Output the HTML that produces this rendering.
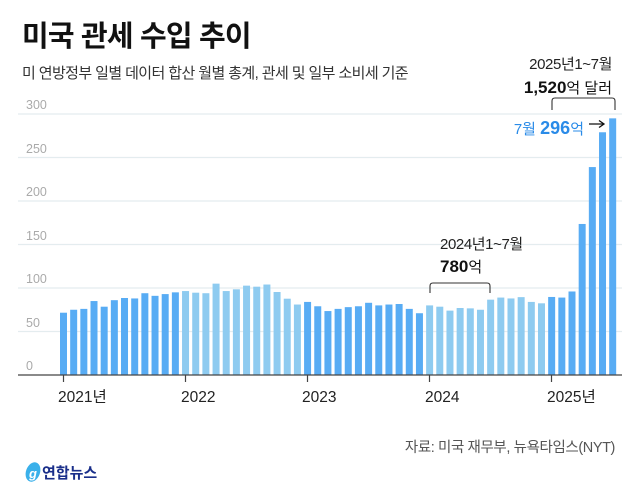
<!DOCTYPE html>
<html><head><meta charset="utf-8"><style>
body{margin:0;width:640px;height:495px;background:#fff;overflow:hidden}
svg text{font-family:"Liberation Sans","Noto Sans CJK KR",sans-serif}
</style></head><body>
<svg width="640" height="495" viewBox="0 0 640 495" xmlns="http://www.w3.org/2000/svg">
<text x="22" y="46" font-size="29" font-weight="bold" fill="#111" letter-spacing="-0.8">미국 관세 수입 추이</text>
<text x="22" y="78" font-size="15" fill="#333" letter-spacing="-0.6">미 연방정부 일별 데이터 합산 월별 총계, 관세 및 일부 소비세 기준</text>
<g stroke="#e4ecef" stroke-width="1.2">
<line x1="18" x2="622" y1="331.5" y2="331.5"/><line x1="18" x2="622" y1="288" y2="288"/>
<line x1="18" x2="622" y1="244.5" y2="244.5"/><line x1="18" x2="622" y1="201" y2="201"/>
<line x1="18" x2="622" y1="157.5" y2="157.5"/><line x1="18" x2="622" y1="114" y2="114"/>
</g>
<g font-size="12.5" fill="#aaa">
<text x="26" y="370">0</text><text x="26" y="327">50</text><text x="26" y="283">100</text>
<text x="26" y="240">150</text><text x="26" y="196">200</text><text x="26" y="153">250</text><text x="26" y="109">300</text>
</g>
<g id="bars"></g>
<line x1="18" x2="622" y1="375" y2="375" stroke="#444" stroke-width="1.3"/>
<g stroke="#444" stroke-width="1.2">
<line x1="63.5" x2="63.5" y1="375" y2="382"/><line x1="185.5" x2="185.5" y1="375" y2="382"/>
<line x1="307.5" x2="307.5" y1="375" y2="382"/><line x1="429.5" x2="429.5" y1="375" y2="382"/>
<line x1="551.5" x2="551.5" y1="375" y2="382"/>
</g>
<g font-size="15.5" fill="#222">
<text x="58" y="402">2021년</text><text x="181" y="402">2022</text><text x="302" y="402">2023</text>
<text x="425" y="402">2024</text><text x="547" y="402">2025년</text>
</g>
<path d="M430 293 V286 Q430 283 433 283 H487 Q490 283 490 286 V293" fill="none" stroke="#333" stroke-width="1.1"/>
<text x="440" y="249" font-size="15" fill="#222" letter-spacing="-0.4">2024년1~7월</text>
<text x="440" y="272" font-size="17" fill="#111"><tspan font-weight="bold">780</tspan><tspan font-size="15">억</tspan></text>
<path d="M552 110 V101 Q552 98 555 98 H612 Q615 98 615 101 V110" fill="none" stroke="#333" stroke-width="1.1"/>
<text x="612" y="69" font-size="15" fill="#222" text-anchor="end" letter-spacing="-0.4">2025년1~7월</text>
<text x="612" y="93" font-size="17" fill="#111" text-anchor="end"><tspan font-weight="bold">1,520</tspan><tspan font-size="15">억 달러</tspan></text>
<text x="584" y="134" font-size="15" fill="#2a8be8" text-anchor="end">7월 <tspan font-weight="bold" font-size="18">296</tspan>억</text>
<path d="M589 124 H603 M599 120.5 L604 124 L599 127.5" fill="none" stroke="#111" stroke-width="1.3"/>
<text x="615" y="452" font-size="14.5" fill="#555" text-anchor="end" letter-spacing="-0.4">자료: 미국 재무부, 뉴욕타임스(NYT)</text>
<ellipse cx="33" cy="472" rx="7" ry="10" fill="#3ab0ea" transform="rotate(20 33 472)"/>
<text x="29" y="478" font-size="13" font-style="italic" font-weight="bold" fill="#fff">g</text>
<text x="42" y="478" font-size="15" font-weight="bold" fill="#1a2f8a">연합뉴스</text>
</svg>
<script>
var v=[71.6,75,76,85,78.5,86,88.5,88,94,91,93,95,96.5,94.6,94,105,96.5,98.5,102.7,101.5,104,95.4,87.7,81,84,79,73.5,76,78,79,83,80,81,81.6,76,71,80,78.5,74,77,76.6,75,86.6,89,88,89.5,84,82.4,89.7,89,96,173.6,239,279,295];
var g=document.getElementById('bars'),s='';
for(var i=0;i<v.length;i++){var yr=Math.floor(i/12);var c=(yr%2==1)?'#8ecbf0':'#58acf4';var h=v[i]*0.87;
s+='<rect x="'+(60+i*10.17).toFixed(2)+'" y="'+(375-h).toFixed(2)+'" width="7" height="'+h.toFixed(2)+'" fill="'+c+'"/>';}
g.innerHTML=s;
</script>
</body></html>
